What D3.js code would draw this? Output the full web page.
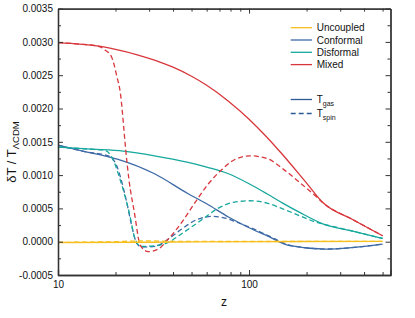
<!DOCTYPE html>
<html>
<head>
<meta charset="utf-8">
<script src="https://cdn.jsdelivr.net/npm/d3@7"></script>
<style>
  body { margin: 0; background: #fff; }
  svg { display: block; font-family: "Liberation Sans", Arial, sans-serif; }
</style>
</head>
<body>
<div id="plot"></div>
<script>
// values: redshift z and dT / T_LCDM
const uncoupledZ = [10, 30, 100, 500];
const uncoupledGas = [-0.000012, -0.000008, 0.0, 0.000005];
const uncoupledSpinZ = [10, 20, 25, 30, 40, 100, 500];
const uncoupledSpin = [-0.00001, 0.0, 0.00001, 0.000012, 0.000005, 0.000003, 0.000005];

const conformalZ = [10, 14, 18, 21, 32, 48, 60, 78, 100, 124, 163, 250, 500];
const conformalGas = [0.00145, 0.00135, 0.00128, 0.00123, 0.00102, 0.00072, 0.00057, 0.00037, 0.00021, 0.00009, -0.00006, -0.00011, -0.000035];
const conformalSpinZ = [10, 14, 18.3, 20.3, 21.6, 22.9, 24.3, 25.9, 27.4, 32.3, 37.8, 44.4, 54.2, 65, 76, 85, 100, 124, 163, 250, 500];
const conformalSpin = [0.00145, 0.00135, 0.00129, 0.00114, 0.00089, 0.00059, 0.00024, -0.00003, -0.00008, -0.00007, 0.00004, 0.00019, 0.00034, 0.00038, 0.00035, 0.0003, 0.00022, 0.0001, -0.00005, -0.00011, -0.000035];

const disformalZ = [10, 15, 22, 32, 48, 60, 78, 100, 124, 150, 184, 245, 340, 500];
const disformalGas = [0.00142, 0.00139, 0.00136, 0.00129, 0.00119, 0.00112, 0.00102, 0.00087, 0.00072, 0.00058, 0.00044, 0.000265, 0.000165, 0.00005];
const disformalSpinZ = [10, 14.4, 17.6, 19.5, 21.1, 22.4, 23.8, 25.3, 27.2, 32.2, 37.8, 44.4, 56, 67.8, 82.6, 101, 124, 151, 184, 226, 245, 340, 500];
const disformalSpin = [0.00142, 0.00139, 0.00137, 0.00122, 0.00094, 0.00069, 0.00039, 0.00004, -0.00007, -0.00006, -0.00001, 0.00012, 0.00032, 0.00049, 0.00059, 0.000615, 0.00058, 0.00049, 0.00039, 0.00029, 0.000265, 0.000165, 0.00005];

const mixedZ = [10, 13, 16, 20, 26, 32, 40, 50, 60, 78, 100, 124, 150, 200, 245, 350, 500];
const mixedGas = [0.00299, 0.002967, 0.00294, 0.002887, 0.002807, 0.002726, 0.00262, 0.002484, 0.002349, 0.00211, 0.00184, 0.001569, 0.001305, 0.00088, 0.00058, 0.00033, 0.00009];
const mixedSpinZ = [10, 13, 16, 17.6, 19.1, 20.3, 21.3, 22.2, 22.6, 23.5, 25.1, 27, 29.7, 33.5, 37.8, 44.4, 52.2, 61.3, 71.9, 82.6, 101, 124, 151, 184, 226, 245, 350, 500];
const mixedSpin = [0.00299, 0.002967, 0.00294, 0.00288, 0.00277, 0.00249, 0.00219, 0.00164, 0.00139, 0.00094, 0.00044, -0.00006, -0.00015, -0.00011, 0.00004, 0.00029, 0.00059, 0.00087, 0.00108, 0.00122, 0.00129, 0.00125, 0.00109, 0.00089, 0.00067, 0.00058, 0.00033, 0.00009];

const modelNames = ['Uncoupled', 'Conformal', 'Disformal', 'Mixed'];
const modelColors = ['#f7bf1e', '#3d69a6', '#16a89d', '#d8363c'];

const xMajor = [10, 100];
const xMinor = [20, 30, 40, 50, 60, 70, 80, 90, 200, 300, 400, 500];
const yMajor = [-0.0005, 0, 0.0005, 0.001, 0.0015, 0.002, 0.0025, 0.003, 0.0035];
const yMinor = [-0.00025, 0.00025, 0.00075, 0.00125, 0.00175, 0.00225, 0.00275, 0.00325];

const width = 415;
const height = 318;
const margin = {top: 8.6, right: 24.5, bottom: 43, left: 58};

const svg = d3.select('#plot').append('svg')
    .attr('width', width)
    .attr('height', height);

const x = d3.scaleLog().domain([10, 550]).range([margin.left, width - margin.right]);
const y = d3.scaleLinear().domain([-0.0005, 0.0035]).range([height - margin.bottom, margin.top]);

const series = [
    {z: conformalZ, v: conformalGas, color: modelColors[1], dash: null},
    {z: conformalSpinZ, v: conformalSpin, color: modelColors[1], dash: '5,3'},
    {z: disformalZ, v: disformalGas, color: modelColors[2], dash: null},
    {z: disformalSpinZ, v: disformalSpin, color: modelColors[2], dash: '5,3'},
    {z: mixedZ, v: mixedGas, color: modelColors[3], dash: null},
    {z: mixedSpinZ, v: mixedSpin, color: modelColors[3], dash: '5,3'},
    {z: uncoupledSpinZ, v: uncoupledSpin, color: modelColors[0], dash: '5,3'},
    {z: uncoupledZ, v: uncoupledGas, color: modelColors[0], dash: null}
];

const line = d3.line()
    .x(d => x(d[0]))
    .y(d => y(d[1]))
    .curve(d3.curveMonotoneX);

svg.append('g').selectAll('path')
    .data(series)
    .join('path')
    .attr('d', s => line(s.z.map((z, i) => [z, s.v[i]])))
    .attr('fill', 'none')
    .attr('stroke', s => s.color)
    .attr('stroke-width', 1.3)
    .attr('stroke-dasharray', s => s.dash);

// axes, ticks pointing inward on all four sides
function styleAxis(g) {
    g.selectAll('.domain').attr('stroke', '#333').attr('stroke-width', 1.3);
    g.selectAll('.tick line').attr('stroke', '#333').attr('stroke-width', 1);
    g.selectAll('.tick text').attr('fill', '#111').attr('font-size', '10px')
        .attr('font-family', '"Liberation Sans", Arial, sans-serif');
}

const bottom = height - margin.bottom;
const right = width - margin.right;

svg.append('g').attr('transform', `translate(0,${bottom})`)
    .call(d3.axisBottom(x).tickValues(xMajor).tickFormat(d3.format('d')).tickSize(-5).tickPadding(6))
    .call(styleAxis);
svg.append('g').attr('transform', `translate(0,${bottom})`)
    .call(d3.axisBottom(x).tickValues(xMinor).tickFormat('').tickSize(-3).tickSizeOuter(0))
    .call(styleAxis);
svg.append('g').attr('transform', `translate(0,${margin.top})`)
    .call(d3.axisTop(x).tickValues(xMajor).tickFormat('').tickSize(-5).tickSizeOuter(0))
    .call(styleAxis);
svg.append('g').attr('transform', `translate(0,${margin.top})`)
    .call(d3.axisTop(x).tickValues(xMinor).tickFormat('').tickSize(-3).tickSizeOuter(0))
    .call(styleAxis);

svg.append('g').attr('transform', `translate(${margin.left},0)`)
    .call(d3.axisLeft(y).tickValues(yMajor).tickFormat(d => d.toFixed(4)).tickSize(-5).tickSizeOuter(0).tickPadding(5))
    .call(styleAxis);
svg.append('g').attr('transform', `translate(${margin.left},0)`)
    .call(d3.axisLeft(y).tickValues(yMinor).tickFormat('').tickSize(-3).tickSizeOuter(0))
    .call(styleAxis);
svg.append('g').attr('transform', `translate(${right},0)`)
    .call(d3.axisRight(y).tickValues(yMajor).tickFormat('').tickSize(-5).tickSizeOuter(0))
    .call(styleAxis);
svg.append('g').attr('transform', `translate(${right},0)`)
    .call(d3.axisRight(y).tickValues(yMinor).tickFormat('').tickSize(-3).tickSizeOuter(0))
    .call(styleAxis);

// axis titles
svg.append('text')
    .attr('x', 224)
    .attr('y', 306)
    .attr('text-anchor', 'middle')
    .attr('font-size', '12px')
    .attr('fill', '#111')
    .text('z');

const yTitle = svg.append('text')
    .attr('transform', 'translate(16,152) rotate(-90)')
    .attr('text-anchor', 'middle')
    .attr('font-size', '13px')
    .attr('fill', '#111');
yTitle.append('tspan').text('δT / T');
yTitle.append('tspan').attr('font-size', '9.5px').attr('dy', 3).text('ΛCDM');

// legend
const legend = svg.append('g');
modelNames.forEach((name, i) => {
    const ly = 27.7 + i * 12.3;
    legend.append('line')
        .attr('x1', 290.7).attr('x2', 312)
        .attr('y1', ly).attr('y2', ly)
        .attr('stroke', modelColors[i]).attr('stroke-width', 1.3);
    legend.append('text')
        .attr('x', 316.7).attr('y', ly + 3.6)
        .attr('font-size', '10px').attr('fill', '#111')
        .text(name);
});

[['gas', null, 99.5], ['spin', '5,3', 113.5]].forEach(([sub, dash, ly]) => {
    legend.append('line')
        .attr('x1', 290.7).attr('x2', 312)
        .attr('y1', ly).attr('y2', ly)
        .attr('stroke', '#2f5a96').attr('stroke-width', 1.3)
        .attr('stroke-dasharray', dash);
    const t = legend.append('text')
        .attr('x', 316.7).attr('y', ly + 3.6)
        .attr('font-size', '10px').attr('fill', '#111');
    t.append('tspan').text('T');
    t.append('tspan').attr('font-size', '7px').attr('dy', 3).text(sub);
});
</script>
</body>
</html>
